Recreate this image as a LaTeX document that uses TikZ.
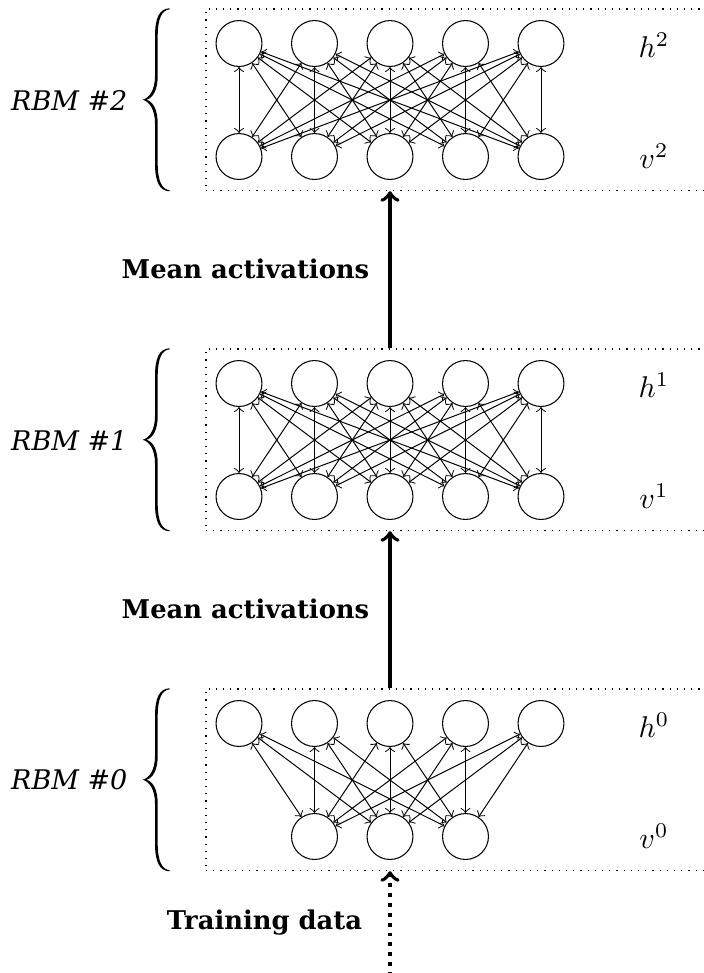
\documentclass[tikz,border=0pt]{standalone}
\usepackage[no-math]{fontspec}
\setmainfont{DejaVu Serif}
\usetikzlibrary{arrows}

\begin{document}
\begin{tikzpicture}[x={(0.3333pt,0)}, y={(0,-0.3333pt)},
  neuron/.style={circle, draw, line width=0.35pt, minimum size=15.3pt, inner sep=0pt},
  layerbox/.style={draw, dotted, line width=0.4pt, minimum width=172pt, minimum height=60.5pt, inner sep=0pt},
  link/.style={<->, >=to, line width=0.33pt},
  feed/.style={->, >=to, line width=1.3pt},
  rbmlabel/.style={font=\fontsize{9}{11}\selectfont\itshape, anchor=east, inner sep=0pt},
  flowlabel/.style={font=\fontsize{8.6}{10}\selectfont\bfseries, inner sep=0pt},
  layername/.style={font=\fontsize{10.4}{12}\selectfont, inner sep=0pt},
  % curly brace with tapering stroke, tip at the pic origin
  bigbrace/.pic={
    \fill (27,-91.5) .. controls (17,-91) and (12.3,-83) .. (12.3,-63)
      -- (12.3,-24) .. controls (12.3,-10) and (7,-2) .. (0,0)
      .. controls (7,2) and (12.3,10) .. (12.3,24)
      -- (12.3,63) .. controls (12.3,83) and (17,91) .. (27,91.5)
      -- (27,90.4) .. controls (19.5,90) and (15,82) .. (15,63)
      -- (15,24) .. controls (15,10) and (10.5,2) .. (3.8,0)
      .. controls (10.5,-2) and (15,-10) .. (15,-24)
      -- (15,-63) .. controls (15,-82) and (19.5,-90) .. (27,-90.4)
      -- cycle;
  },
]
\useasboundingbox (0,0) rectangle (704,973);
\clip (0,0) rectangle (704,973);

% three stacked RBMs: frame, brace, name and layer labels
\foreach \k/\oy in {2/0, 1/340, 0/680} {
  \node[layerbox] (box\k) at (464, {99.75+\oy}) {};
  \pic at (142.7, {99.75+\oy}) {bigbrace};
  \node[rbmlabel] (name\k) at (128, {100+\oy}) {RBM \#\k};
  \node[layername] (hl\k) at (654, {45+\oy}) {$h^{\k}$};
  \node[layername] (vl\k) at (654, {156+\oy}) {$v^{\k}$};
  \foreach \i in {1,...,5}
    \node[neuron] (h\k-\i) at ({239+75.5*(\i-1)}, {43.5+\oy}) {};
}

% visible units
\foreach \k/\oy in {2/0, 1/340} {
  \foreach \j in {1,...,5}
    \node[neuron] (v\k-\j) at ({239+75.5*(\j-1)}, {156.5+\oy}) {};
}
\foreach \j in {2,3,4}
  \node[neuron] (v0-\j) at ({239+75.5*(\j-1)}, 836.5) {};

% symmetric weights between the layers
\foreach \k in {2,1} {
  \foreach \i in {1,...,5} {
    \foreach \j in {1,...,5}
      \draw[link] (h\k-\i) -- (v\k-\j);
  }
}
\foreach \i in {1,...,5} {
  \foreach \j in {2,3,4}
    \draw[link] (h0-\i) -- (v0-\j);
}

% data flow between the machines
\draw[feed] (box0.north -| h0-3) -- (box1.south -| h1-3);
\draw[feed] (box1.north -| h1-3) -- (box2.south -| h2-3);
\coordinate (src) at (390, 976);
\draw[feed, dotted] (src) -- (box0.south -| h0-3);

\node[flowlabel] (ma2) at (245.5, 269) {Mean activations};
\node[flowlabel] (ma1) at (245.5, 609) {Mean activations};
\node[flowlabel] (td) at (264.5, 922.5) {Training data};
\end{tikzpicture}
\end{document}
